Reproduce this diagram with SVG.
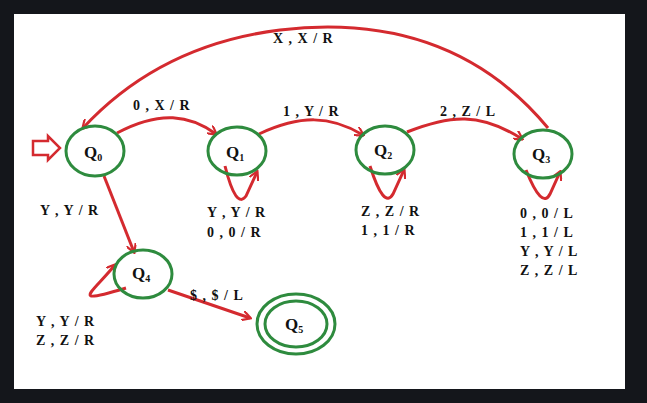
<svg xmlns="http://www.w3.org/2000/svg" width="647" height="403" viewBox="0 0 647 403">
<defs>
<marker id="ah" markerWidth="10" markerHeight="10" refX="8" refY="5" orient="auto" markerUnits="userSpaceOnUse" viewBox="0 0 10 10">
<path d="M0,0 L9,5 L0,10" fill="none" stroke="#d42a2f" stroke-width="2.2"/>
</marker>
<style>
.n{fill:none;stroke:#2e8b3e;stroke-width:3}
.e{fill:none;stroke:#d42a2f;stroke-width:3;marker-end:url(#ah)}
.q{font-family:"Liberation Serif",serif;font-weight:bold;font-size:17px;fill:#111}
.s{font-family:"Liberation Serif",serif;font-weight:bold;font-size:10px;fill:#111}
.t{font-family:"Liberation Serif",serif;font-weight:bold;font-size:14px;fill:#111;letter-spacing:1px}
</style>
</defs>
<rect width="647" height="403" fill="#14161b"/>
<rect x="14" y="14" width="611" height="375" fill="#fff"/>
<g id="edges">
<path d="M33,141 H48 V136 L60,148 L48,160 V155 H33 Z" fill="none" stroke="#d42a2f" stroke-width="2.5"/>
<path class="e" d="M548,128 Q450,10 280,30 Q160,45 83,128"/>
<path class="e" d="M117,133 C160,110 190,115 216,134"/>
<path class="e" d="M259,134 C300,115 330,115 363,135"/>
<path class="e" d="M407,132 C450,115 480,112 522,139"/>
<path class="e" d="M104,176 L134,252"/>
<path class="e" d="M168,290 L250,318"/>
<path class="e" d="M225,166 Q236,210 246,196 L257,172"/>
<path class="e" d="M370,166 Q384,210 393,194 L404,170"/>
<path class="e" d="M526,170 Q542,210 550,194 L560,172"/>
<path class="e" d="M126,288 C70,305 90,295 115,265"/>
</g>
<g id="Q0"><ellipse class="n" cx="95" cy="151" rx="29" ry="25"/><text class="q" x="84" y="158">Q<tspan class="s" dy="3">0</tspan></text></g>
<g id="Q1"><ellipse class="n" cx="237" cy="151" rx="29" ry="24"/><text class="q" x="226" y="158">Q<tspan class="s" dy="3">1</tspan></text></g>
<g id="Q2"><ellipse class="n" cx="385" cy="150" rx="29" ry="24"/><text class="q" x="374" y="156">Q<tspan class="s" dy="3">2</tspan></text></g>
<g id="Q3"><ellipse class="n" cx="543" cy="154" rx="29" ry="24"/><text class="q" x="532" y="160">Q<tspan class="s" dy="3">3</tspan></text></g>
<g id="Q4"><ellipse class="n" cx="143" cy="274" rx="29" ry="24"/><text class="q" x="132" y="279">Q<tspan class="s" dy="3">4</tspan></text></g>
<g id="Q5"><ellipse class="n" cx="296" cy="324" rx="39" ry="30"/><ellipse class="n" cx="296" cy="324" rx="31" ry="23"/><text class="q" x="285" y="330">Q<tspan class="s" dy="3">5</tspan></text></g>
<g id="labels">
<text class="t" x="273" y="43">X , X / R</text>
<text class="t" x="133" y="110">0 , X / R</text>
<text class="t" x="283" y="116">1 , Y / R</text>
<text class="t" x="440" y="116">2 , Z / L</text>
<text class="t" x="40" y="215">Y , Y / R</text>
<text class="t" x="207" y="217">Y , Y / R</text>
<text class="t" x="207" y="237">0 , 0 / R</text>
<text class="t" x="361" y="216">Z , Z / R</text>
<text class="t" x="361" y="235">1 , 1 / R</text>
<text class="t" x="520" y="218">0 , 0 / L</text>
<text class="t" x="520" y="237">1 , 1 / L</text>
<text class="t" x="520" y="256">Y , Y / L</text>
<text class="t" x="520" y="275">Z , Z / L</text>
<text class="t" x="190" y="300">$ , $ / L</text>
<text class="t" x="36" y="326">Y , Y / R</text>
<text class="t" x="36" y="345">Z , Z / R</text>
</g>
</svg>
